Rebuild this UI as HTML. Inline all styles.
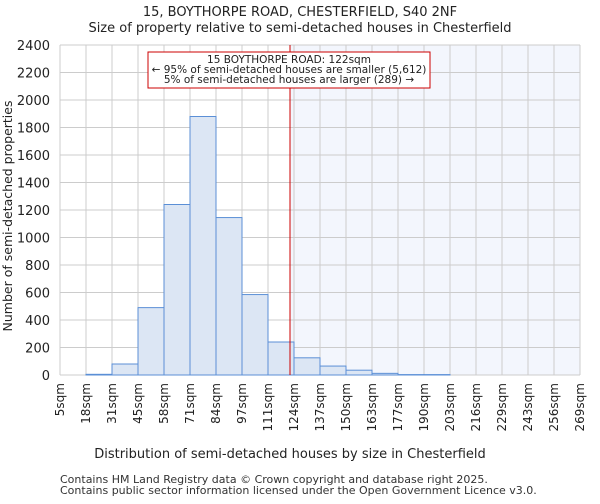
<!DOCTYPE html>
<html><head><meta charset="utf-8"><style>
body{margin:0;background:#fff;font-family:"DejaVu Sans","Liberation Sans",sans-serif;}
</style></head><body>
<svg width="600" height="500" xmlns="http://www.w3.org/2000/svg" id="chart">
<text x="300" y="16" text-anchor="middle" font-size="13" fill="#222">15, BOYTHORPE ROAD, CHESTERFIELD, S40 2NF</text>
<text x="300" y="32" text-anchor="middle" font-size="13" fill="#222">Size of property relative to semi-detached houses in Chesterfield</text>
<g id="plot"></g>
<text x="290" y="458" text-anchor="middle" font-size="13" fill="#222">Distribution of semi-detached houses by size in Chesterfield</text>
<text transform="translate(12,216) rotate(-90)" text-anchor="middle" font-size="12.5" fill="#222">Number of semi-detached properties</text>
<text x="60" y="483" font-size="11" fill="#333">Contains HM Land Registry data © Crown copyright and database right 2025.</text>
<text x="60" y="494" font-size="11" fill="#333">Contains public sector information licensed under the Open Government Licence v3.0.</text>
</svg>
<script>
const binEdges=[5,18,31,45,58,71,84,97,111,124,137,150,163,177,190,203,216,229,243,256,269];
const counts=[0,5,80,490,1240,1880,1145,585,240,125,65,35,12,3,3,0,0,0,0,0];
const yTicks=[0,200,400,600,800,1000,1200,1400,1600,1800,2000,2200,2400];
const propertySize=122;
const annotationLines=["15 BOYTHORPE ROAD: 122sqm","← 95% of semi-detached houses are smaller (5,612)","5% of semi-detached houses are larger (289) →"];
const NS="http://www.w3.org/2000/svg";
const g=document.getElementById('plot');
const X0=60,X1=580,Y0=375,Y1=45,n=binEdges.length-1;
const xIdx=i=>X0+(X1-X0)*i/n;
function xVal(v){for(let i=0;i<n;i++){if(v<=binEdges[i+1])return xIdx(i)+(v-binEdges[i])/(binEdges[i+1]-binEdges[i])*(X1-X0)/n;}return X1;}
const y=v=>Y0-(Y0-Y1)*v/2400;
function mk(t,a,p){const e=document.createElementNS(NS,t);for(const k in a)e.setAttribute(k,a[k]);(p||g).appendChild(e);return e;}
const rx=xVal(propertySize);
let sh=mk('rect',{x:rx,y:Y1,width:X1-rx,height:Y0-Y1,fill:'#f3f6fd'});


yTicks.forEach(t=>{let l=mk('line',{x1:X0,x2:X1,y1:y(t),y2:y(t),stroke:'#ccc','stroke-width':1});


let tx=mk('text',{x:X0-10,y:y(t)+5,'text-anchor':'end','font-size':13,fill:'#222'});tx.textContent=t;

});
binEdges.forEach((b,i)=>{let l=mk('line',{x1:xIdx(i),x2:xIdx(i),y1:Y1,y2:Y0,stroke:'#ccc','stroke-width':1});


let tx=mk('text',{transform:`translate(${xIdx(i)+4},${Y0+8}) rotate(-90)`,'text-anchor':'end','font-size':12,fill:'#222'});tx.textContent=b+'sqm';

});
counts.forEach((c,i)=>{if(c<=0)return;let r=mk('rect',{x:xIdx(i),y:y(c),width:(X1-X0)/n,height:Y0-y(c),fill:'#dce6f4',stroke:'#5b8fd6','stroke-width':1});

});
let rl=mk('line',{x1:rx,x2:rx,y1:Y1,y2:Y0,stroke:'#cc0000','stroke-width':1});


let bx=mk('rect',{x:148,y:52,width:282,height:36,fill:'#fff',stroke:'#cc0000','stroke-width':1});


annotationLines.forEach((s,i)=>{let t=mk('text',{x:289,y:63+i*10,'text-anchor':'middle','font-size':10.5,fill:'#222'});t.textContent=s;

});
</script>
</body></html>
